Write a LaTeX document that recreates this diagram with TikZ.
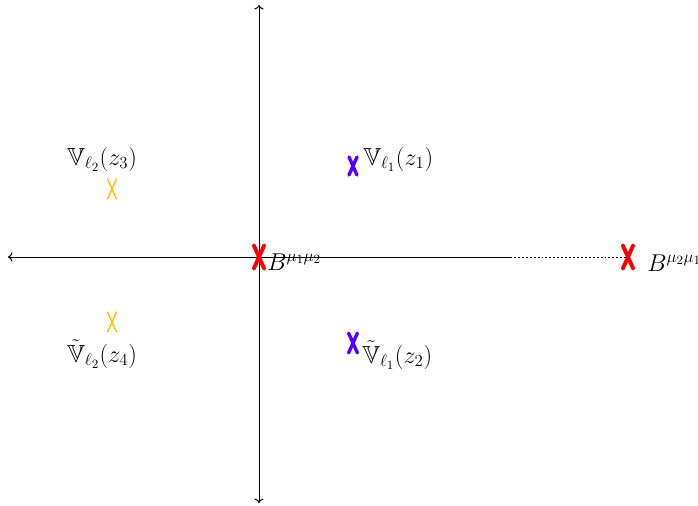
\documentclass[tikz,border=0pt]{standalone}
\usepackage{amsmath,amssymb}
\usepackage{tikz}
\usetikzlibrary{arrows.meta}
\usepackage{xcolor}
\definecolor{markred}{RGB}{255,0,0}
\definecolor{markblue}{RGB}{85,0,255}
\definecolor{markorange}{RGB}{255,192,0}

\begin{document}
\begin{tikzpicture}[x=0.025cm,y=-0.025cm,
    axis/.style={line width=0.7pt},
    lbl/.style={font=\fontsize{17.5}{20}\selectfont,inner sep=0pt},
    xmark/.pic={\draw[line cap=round,pic actions] (-4,-9) -- (4,9) (-4,9) -- (4,-9);}]
    \useasboundingbox (0,0) rectangle (698,506);

    % axes
    \coordinate (O) at (259,257);
    \coordinate (west) at (8,257);
    \coordinate (north) at (259,5);
    \coordinate (south) at (259,503);
    \coordinate (dash) at (510,257);
    \coordinate (Bright) at (628,257);
    \draw[axis,->] (dash) -- (west);
    \draw[axis,dash pattern=on 1.4pt off 1.4pt] (dash) -- (Bright);
    \draw[axis,<->] (south) -- (north);

    % insertions
    \coordinate (z1) at (353,166);
    \coordinate (z2) at (353,343);
    \coordinate (z3) at (112,189);
    \coordinate (z4) at (112,322);
    \pic[draw=markred,line width=2.8pt,scale=1.3] at (O) {xmark};
    \pic[draw=markred,line width=2.8pt,scale=1.3] at (Bright) {xmark};
    \pic[draw=markblue,line width=2.4pt] at (z1) {xmark};
    \pic[draw=markblue,line width=2.4pt,scale=1.1] at (z2) {xmark};
    \pic[draw=markorange,line width=1pt,scale=1.1] at (z3) {xmark};
    \pic[draw=markorange,line width=1pt,scale=1.1] at (z4) {xmark};

    % labels
    \node[lbl,anchor=base west] (v1) at (363,165) {$\mathbb{V}_{\ell_1}(z_1)$};
    \node[lbl,anchor=base west] (v2) at (362,363) {$\tilde{\mathbb{V}}_{\ell_1}(z_2)$};
    \node[lbl,anchor=base] (v3) at (102,165) {$\mathbb{V}_{\ell_2}(z_3)$};
    \node[lbl,anchor=base] (v4) at (102,362) {$\tilde{\mathbb{V}}_{\ell_2}(z_4)$};
    \node[lbl,anchor=base west] (b12) at (267,270) {$B^{\mu_1\mu_2}$};
    \node[lbl,anchor=base west] (b21) at (647,271) {$B^{\mu_2\mu_1}$};
\end{tikzpicture}
\end{document}
